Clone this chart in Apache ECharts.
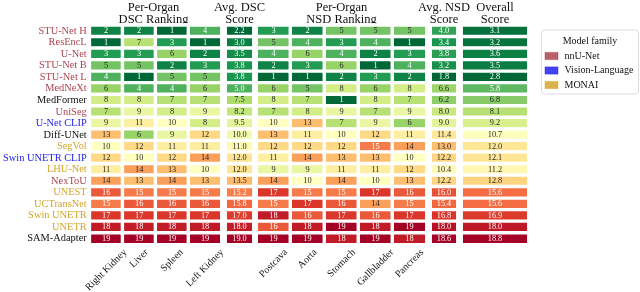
<!DOCTYPE html>
<html><head><meta charset="utf-8">
<script src="https://cdn.jsdelivr.net/npm/echarts@6/dist/echarts.min.js"></script>
<style>html,body{margin:0;padding:0;background:#fff}#c{width:640px;height:292px}</style>
</head><body><div id="c"></div>
<script>
const models = ['STU-Net H','ResEncL','U-Net','STU-Net B','STU-Net L','MedNeXt','MedFormer','UniSeg','U-Net CLIP','Diff-UNet','SegVol','Swin UNETR CLIP','LHU-Net','NexToU','UNEST','UCTransNet','Swin UNETR','UNETR','SAM-Adapter'];
const families = ['nnU-Net','nnU-Net','nnU-Net','nnU-Net','nnU-Net','nnU-Net','other','nnU-Net','Vision-Language','other','MONAI','Vision-Language','MONAI','nnU-Net','MONAI','MONAI','MONAI','MONAI','other'];
const legendFamilies = ['nnU-Net','Vision-Language','MONAI'];
const dscOrgans = ['Right Kidney','Liver','Spleen','Left Kidney'];
const nsdOrgans = ['Postcava','Aorta','Stomach','Gallbladder','Pancreas'];
const dscRightKidney = [2,1,3,5,4,6,8,7,9,13,10,12,11,14,16,15,17,18,19];
const dscLiver = [2,7,3,5,1,4,8,9,11,6,12,10,14,13,15,16,17,18,19];
const dscSpleen = [1,3,6,2,5,4,7,8,10,9,11,12,13,14,15,16,17,18,19];
const dscLeftKidney = [4,1,2,3,5,6,7,9,8,12,11,14,10,13,15,16,17,18,19];
const avgDSC = [2.2,3.0,3.5,3.8,3.8,5.0,7.5,8.2,9.5,10.0,11.0,12.0,12.0,13.5,15.2,15.8,17.0,18.0,19.0];
const nsdPostcava = [3,5,4,2,1,6,8,7,10,13,12,11,9,14,17,15,18,16,19];
const nsdAorta = [2,4,6,3,1,5,7,8,13,11,12,14,9,10,15,17,16,18,19];
const nsdStomach = [5,3,4,6,2,8,1,9,7,10,12,13,11,14,15,16,17,19,18];
const nsdGallbladder = [5,4,2,1,3,6,8,7,9,12,15,13,11,10,17,14,16,18,19];
const nsdPancreas = [5,1,3,4,2,8,7,9,6,11,14,10,12,13,16,15,17,19,18];
const avgNSD = [4.0,3.4,3.8,3.2,1.8,6.6,6.2,8.0,9.0,11.4,13.0,12.2,10.4,12.2,16.0,15.4,16.8,18.0,18.6];
const overall = [3.1,3.2,3.6,3.5,2.8,5.8,6.8,8.1,9.2,10.7,12.0,12.1,11.2,12.8,15.6,15.6,16.9,18.0,18.8];

const familyColors = {'nnU-Net':'#ad4450','Vision-Language':'#2222ee','MONAI':'#d4a52a','other':'#111111'};
const cmap = ['#006837','#1a9850','#66bd63','#a6d96a','#d9ef8b','#ffffbf','#fee08b','#fdae61','#f46d43','#d73027','#a50026'];
const SERIF = '"Liberation Serif","DejaVu Serif",serif';

const groups = [
  {cols: dscOrgans, data: [dscRightKidney,dscLiver,dscSpleen,dscLeftKidney], left:85.5, width:136, ticks:true, dec:0, head:'Per-Organ\nDSC Ranking'},
  {cols: ['Avg. DSC Score'], data: [avgDSC], left:225.5, width:28, ticks:false, dec:1, head:'Avg. DSC\nScore'},
  {cols: nsdOrgans, data: [nsdPostcava,nsdAorta,nsdStomach,nsdGallbladder,nsdPancreas], left:256.5, width:170, ticks:true, dec:0, head:'Per-Organ\nNSD Ranking'},
  {cols: ['Avg. NSD Score'], data: [avgNSD], left:430.5, width:27, ticks:false, dec:1, head:'Avg. NSD\nScore'},
  {cols: ['Overall Score'], data: [overall], left:461.5, width:67, ticks:false, dec:1, head:'Overall\nScore'}
];
const TOP = 25.2, BOTTOM = 47.5;

function hex2rgb(h){return [parseInt(h.slice(1,3),16),parseInt(h.slice(3,5),16),parseInt(h.slice(5,7),16)];}
function colorAt(t){
  t = Math.max(0, Math.min(1, t));
  const p = t*(cmap.length-1), i = Math.min(Math.floor(p), cmap.length-2), f = p-i;
  const a = hex2rgb(cmap[i]), b = hex2rgb(cmap[i+1]);
  return a.map((v,k)=>v+(b[k]-v)*f);
}
function textColor(t){
  const c = colorAt(t).map(v=>{v/=255;return v<=0.03928?v/12.92:Math.pow((v+0.055)/1.055,2.4);});
  const L = 0.2126*c[0]+0.7152*c[1]+0.0722*c[2];
  return L > 0.408 ? '#262626' : '#ffffff';
}

const grid=[], xAxis=[], yAxis=[], series=[], visualMap=[], graphic=[];
groups.forEach((g,gi)=>{
  grid.push({left:g.left, width:g.width, top:TOP, bottom:BOTTOM, containLabel:false});
  xAxis.push({type:'category', gridIndex:gi, data:g.cols, position:'bottom',
    axisLine:{show:false}, axisLabel:{show:false}, splitLine:{show:false}, splitArea:{show:false},
    axisTick:{show:g.ticks, alignWithLabel:true, length:2, lineStyle:{color:'#999', width:1}}});
  yAxis.push({type:'category', gridIndex:gi, data:models, inverse:true,
    axisLine:{show:false}, splitLine:{show:false}, splitArea:{show:false},
    axisTick:{show:gi===0, interval:0, alignWithLabel:true, length:2, lineStyle:{color:'#999', width:1}},
    axisLabel:{show:gi===0, interval:0, margin:3, fontSize:10.4, fontFamily:SERIF,
      color:(v)=>familyColors[families[models.indexOf(v)]]}});
  const all = g.data.flat();
  const mn = Math.min(...all), mx = Math.max(...all);
  const data = [];
  g.data.forEach((col,ci)=>col.forEach((v,ri)=>{
    data.push({value:[ci,ri,v], label:{color:textColor((v-mn)/(mx-mn))}});
  }));
  series.push({type:'heatmap', xAxisIndex:gi, yAxisIndex:gi, data:data,
    label:{show:true, fontSize:8.3, fontFamily:SERIF, formatter:p=>p.value[2].toFixed(g.dec)},
    itemStyle:{borderColor:'#ffffff', borderWidth:3.4},
    emphasis:{disabled:true}});
  visualMap.push({type:'continuous', show:false, seriesIndex:gi, dimension:2, min:mn, max:mx,
    inRange:{color:cmap}});
  graphic.push({type:'text', x:g.left+g.width/2, y:1.5,
    style:{text:g.head, fontSize:12.5, fontFamily:SERIF, fill:'#111', align:'center', verticalAlign:'top', lineHeight:12}});
});

// legend box
const LX = 541.5, LY = 30;
graphic.push({type:'rect', shape:{x:LX, y:LY, width:97, height:64, r:3}, style:{fill:'#fff', stroke:'#dcdcdc', lineWidth:1}});
graphic.push({type:'text', x:LX+48.5, y:LY+11.5, style:{text:'Model family', fontSize:10, fontFamily:SERIF, fill:'#111', align:'center', verticalAlign:'middle'}});
legendFamilies.forEach((f,i)=>{
  const cy = LY + 26 + i*14.5;
  graphic.push({type:'rect', shape:{x:LX+3.5, y:cy-3.6, width:13, height:7.2}, style:{fill:familyColors[f], stroke:familyColors[f], lineWidth:0.5, opacity:0.85}});
  graphic.push({type:'text', x:LX+23, y:cy, style:{text:f, fontSize:10, fontFamily:SERIF, fill:'#111', align:'left', verticalAlign:'middle'}});
});

const chart = echarts.init(document.getElementById('c'), null, {renderer:'canvas'});
chart.setOption({animation:false, backgroundColor:'#fff', grid, xAxis, yAxis, series, visualMap, graphic});

// rotated category labels, centred under ticks (bbox top aligned just below axis)
const ctx = document.createElement('canvas').getContext('2d');
ctx.font = '10px ' + SERIF;
const axisBottom = 292 - BOTTOM;
const s45 = Math.SQRT1_2;
const extra = [];
[0,2].forEach(gi=>{
  groups[gi].cols.forEach(name=>{
    const x = chart.convertToPixel({xAxisIndex:gi}, name);
    const L = ctx.measureText(name).width;
    const cy = axisBottom + 3.5 + (L + 8)*s45/2;
    extra.push({type:'text', x:x, y:cy, rotation:Math.PI/4,
      style:{text:name, fontSize:10, fontFamily:SERIF, fill:'#111', align:'center', verticalAlign:'middle'}});
  });
});
chart.setOption({graphic: graphic.concat(extra)});
</script></body></html>
